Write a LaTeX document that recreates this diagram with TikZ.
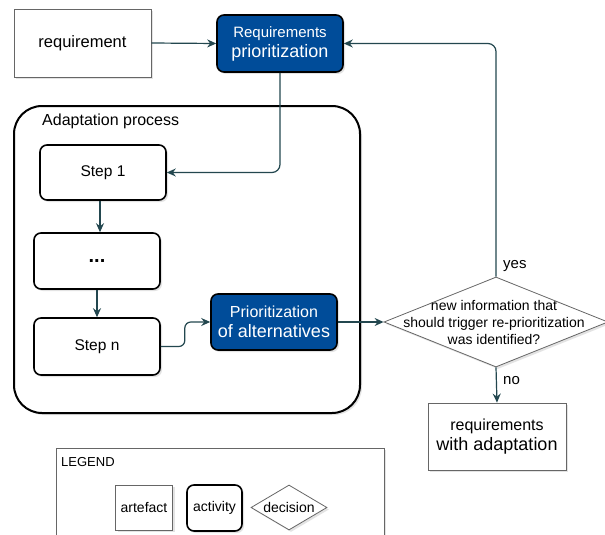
\documentclass[tikz,border=0pt]{standalone}
\usepackage{fontspec}
\setmainfont{Liberation Sans}
\usetikzlibrary{shapes.geometric,arrows.meta,shadows}
\definecolor{actblue}{HTML}{004C99}
\definecolor{arrcol}{HTML}{23474F}
\definecolor{artgray}{HTML}{666666}
\tikzset{
  shad/.style={drop shadow={shadow xshift=2pt,shadow yshift=-2pt,opacity=0.18,fill=black!60}},
  artefact/.style={rectangle,draw=artgray,line width=0.8pt,fill=white,inner sep=0pt,align=center,shad},
  activity/.style={rectangle,rounded corners=7pt,draw=black,line width=1.6pt,fill=white,inner sep=0pt,align=center,shad},
  actblue/.style={activity,fill=actblue,text=white},
  decision/.style={diamond,draw=artgray,line width=0.8pt,fill=white,inner sep=0pt,shad},
  arr/.style={draw=arrcol,line width=1.2pt,-{Stealth[length=9pt,width=8pt,inset=3pt]}},
  lbl/.style={inner sep=0pt,font=\fontsize{14}{16}\selectfont}
}
\begin{document}
\begin{tikzpicture}[x=1pt,y=-1pt]
\useasboundingbox (0,0) rectangle (605,535);
\clip (0,0) rectangle (605,535);
\fill[white] (0,0) rectangle (605,535);

% container
\node[rectangle,draw=black,line width=2pt,rounded corners=28pt,minimum width=346pt,minimum height=307pt,inner sep=0pt,fill=white,shad] (cont) at (187,259.5) {};
\node[anchor=west,lbl,font=\fontsize{16}{18}\selectfont] (contlbl) at (42,121) {Adaptation process};

% top row
\node[artefact,minimum width=137pt,minimum height=68pt,font=\fontsize{16.5}{19}\selectfont] (req) at (82.5,43) {requirement};
\node[actblue,minimum width=126pt,minimum height=57pt,font=\fontsize{15}{20}\selectfont] (reqprio) at (280,43.5)
  {Requirements\\{\fontsize{18}{20}\selectfont prioritization}};

% steps
\node[activity,minimum width=126pt,minimum height=55pt,font=\fontsize{15.5}{18}\selectfont] (step1) at (103,172.5) {Step 1};
\node[activity,minimum width=126pt,minimum height=56pt,font=\fontsize{20}{22}\selectfont\bfseries] (dots) at (97,261) {...};
\node[activity,minimum width=126pt,minimum height=57pt,font=\fontsize{15.5}{18}\selectfont] (stepn) at (97,346.5) {Step n};
\node[actblue,minimum width=126pt,minimum height=56pt,font=\fontsize{16}{20}\selectfont] (prioalt) at (274,322)
  {Prioritization\\{\fontsize{18}{20}\selectfont of alternatives}};

% decision
\node[decision,minimum width=224pt,minimum height=90pt] (dec) at (496,322) {};
\node[align=center,inner sep=0pt,font=\fontsize{14}{17}\selectfont] (dectext) at (494,322)
  {new information that\\should trigger re-prioritization\\was identified?};

\node[artefact,minimum width=138pt,minimum height=67pt,font=\fontsize{16}{20}\selectfont] (reqad) at (497,436.5)
  {requirements\\{\fontsize{18}{20}\selectfont with adaptation}};

% connectors
\draw[arr] (req.east) -- (reqprio.west);
\draw[arr,rounded corners=8pt] (reqprio.south) |- (step1.east);
\draw[arr] ([xshift=-3pt]step1.south) -- ([xshift=3pt]dots.north);
\draw[arr] (dots.south) -- (stepn.north);
\draw[arr,rounded corners=6pt] (stepn.east) -- ++(24,0) |- (prioalt.west);
\draw[arr] (prioalt.east) -- (dec.west);
\draw[arr,rounded corners=8pt] (dec.north) |- (reqprio.east);
\draw[arr] (dec.south) -- (reqad.north);
\node[lbl,anchor=west,font=\fontsize{15}{17}\selectfont] (yes) at (503,266) {yes};
\node[lbl,anchor=west,font=\fontsize{15}{17}\selectfont] (no) at (503,381) {no};

% legend
\node[rectangle,draw=artgray,line width=0.8pt,fill=white,minimum width=328pt,minimum height=100pt,inner sep=0pt,anchor=north west,shad] (legend) at (56,448) {};
\node[lbl,anchor=west,font=\fontsize{13}{15}\selectfont] (legtitle) at (61,462) {LEGEND};
\node[artefact,minimum width=57pt,minimum height=45pt,font=\fontsize{14}{16}\selectfont] (legart) at (144,507.5) {artefact};
\node[activity,minimum width=55pt,minimum height=46pt,font=\fontsize{14}{16}\selectfont] (legact) at (214.5,508) {activity};
\node[decision,minimum width=76pt,minimum height=45pt,font=\fontsize{14}{16}\selectfont] (legdec) at (289,507.5) {};
\node[lbl,font=\fontsize{14}{16}\selectfont] (legdectext) at (289,507) {decision};
\end{tikzpicture}
\end{document}
